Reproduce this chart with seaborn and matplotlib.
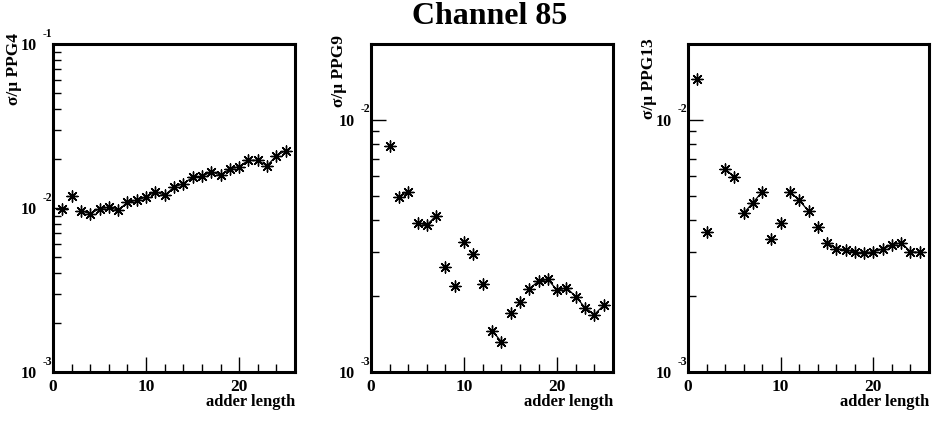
import numpy as np
import pandas as pd
import matplotlib
matplotlib.use("Agg")
import matplotlib.pyplot as plt
import seaborn as sns
from matplotlib.ticker import FixedLocator, MultipleLocator, LogLocator, NullFormatter

sns.set_theme(style="white")
plt.rcParams['font.family'] = ['Liberation Serif', 'DejaVu Serif']
plt.rcParams['font.weight'] = 'bold'

# ---------------- data ----------------
title = "Channel 85"
x_label = "adder length"

ppg4_x = list(range(1, 26))
ppg4_y = [0.0099, 0.01178, 0.00963, 0.00923, 0.0099, 0.0101, 0.0097, 0.01083,
          0.01114, 0.01167, 0.01258, 0.01195, 0.01343, 0.01408, 0.01538, 0.0156,
          0.0166, 0.0159, 0.0173, 0.0179, 0.01954, 0.0195, 0.01811, 0.02084, 0.02237]

ppg9_x = list(range(2, 26))
ppg9_y = [0.00788, 0.00496, 0.00516, 0.00391, 0.00383, 0.00417, 0.00261, 0.00220,
          0.00327, 0.00293, 0.00223, 0.00146, 0.00132, 0.00171, 0.00190, 0.00214,
          0.00229, 0.00233, 0.00211, 0.00216, 0.00199, 0.00180, 0.00169, 0.00184]

ppg13_x = [1, 2] + list(range(4, 26))
ppg13_y = [0.01451, 0.00360, 0.00639, 0.00595, 0.00426, 0.00469, 0.00519, 0.00336,
           0.00390, 0.00519, 0.00480, 0.00435, 0.00377, 0.00326, 0.00307, 0.00306,
           0.00298, 0.00296, 0.00300, 0.00307, 0.00319, 0.00326, 0.00300, 0.00298]

y_titles = ["σ/μ PPG4", "σ/μ PPG9", "σ/μ PPG13"]
y_limits = [(1e-3, 1e-1), (1e-3, 0.02), (1e-3, 0.02)]
x_limits = (0, 26)
x_major = [0, 10, 20]

series = [(ppg4_x, ppg4_y), (ppg9_x, ppg9_y), (ppg13_x, ppg13_y)]

# ---------------- layout ----------------
W, H = 932, 421
fig = plt.figure(figsize=(W / 100, H / 100), dpi=100)
boxes = [(53, 44, 295, 372), (371, 44, 613, 372), (688, 44, 929, 372)]
ylab_pos = [(14, 33), (339, 35), (649, 38)]

def px_to_fig(l, t, r, b):
    return [l / W, 1 - b / H, (r - l) / W, (b - t) / H]

def segments(ax, xs, ys, max_px=14.65):
    pts = ax.transData.transform(np.column_stack([xs, ys]))
    rows, seg = [], 0
    for i in range(len(xs) - 1):
        if xs[i + 1] - xs[i] == 1 and np.hypot(*(pts[i + 1] - pts[i])) < max_px:
            rows += [(seg, xs[i], ys[i]), (seg, xs[i + 1], ys[i + 1])]
            seg += 1
    return pd.DataFrame(rows, columns=["seg", "x", "y"])

for k, ((xs, ys), box, ytitle, ylim, ylp) in enumerate(
        zip(series, boxes, y_titles, y_limits, ylab_pos)):
    ax = fig.add_axes(px_to_fig(*box))
    ax.set_yscale("log")
    ax.set_xlim(*x_limits)
    ax.set_ylim(*ylim)

    segdf = segments(ax, xs, ys)
    if len(segdf):
        sns.lineplot(data=segdf, x="x", y="y", units="seg", estimator=None,
                     sort=False, color="black", linewidth=0.9, ax=ax, legend=False)
    sns.scatterplot(x=xs, y=ys, marker=(8, 2, 0), s=64, color="black",
                    linewidth=1.0, ax=ax, zorder=3, legend=False)
    ax.set_xlim(*x_limits)
    ax.set_ylim(*ylim)

    for sp in ax.spines.values():
        sp.set_visible(True)
        sp.set_color("black")
        sp.set_linewidth(2.2)

    ax.xaxis.set_major_locator(FixedLocator(x_major))
    ax.xaxis.set_minor_locator(MultipleLocator(2))
    ax.yaxis.set_major_locator(LogLocator(base=10))
    ax.yaxis.set_minor_locator(LogLocator(base=10, subs=range(2, 10)))
    ax.yaxis.set_major_formatter(NullFormatter())
    ax.yaxis.set_minor_formatter(NullFormatter())
    ax.tick_params(axis="both", which="both", direction="in", bottom=True,
                   left=True, top=False, right=False, color="black", width=1.0)
    ax.tick_params(axis="both", which="major", length=10.8)
    ax.tick_params(axis="both", which="minor", length=5.8)
    ax.tick_params(axis="x", which="major", pad=5, labelsize=12.5,
                   labelcolor="black")
    for lab in ax.get_xticklabels():
        lab.set_fontweight("bold")
    ax.set_xlabel("")
    ax.set_ylabel("")

    # ROOT-style decade labels
    lo, hi = ylim
    for e in range(int(np.ceil(np.log10(lo) - 1e-9)), int(np.floor(np.log10(hi) + 1e-9)) + 1):
        v = 10.0 ** e
        ax.annotate("10", xy=(0, v), xycoords=("axes fraction", "data"),
                    xytext=(-11.5, -1.5), textcoords="offset points",
                    ha="right", va="center", fontsize=11.5, fontweight="bold",
                    color="black")
        ax.annotate(f"-{-e}", xy=(0, v), xycoords=("axes fraction", "data"),
                    xytext=(-7.5, 7.5), textcoords="offset points",
                    ha="left", va="center", fontsize=8.5, fontweight="bold",
                    color="black")

    # axis titles
    fig.text(box[2] / W, 1 - 402 / H, x_label, ha="right", va="center",
             fontsize=12, fontweight="bold", color="black")
    fig.text(ylp[0] / W, 1 - ylp[1] / H, ytitle, rotation=90, ha="center",
             va="top", fontsize=12.5, fontweight="bold", color="black")

fig.text(490 / W, 1 - 16 / H, title, ha="center", va="center", fontsize=23,
         fontweight="bold", color="black")

fig.savefig("out.png", dpi=100, facecolor="white")
